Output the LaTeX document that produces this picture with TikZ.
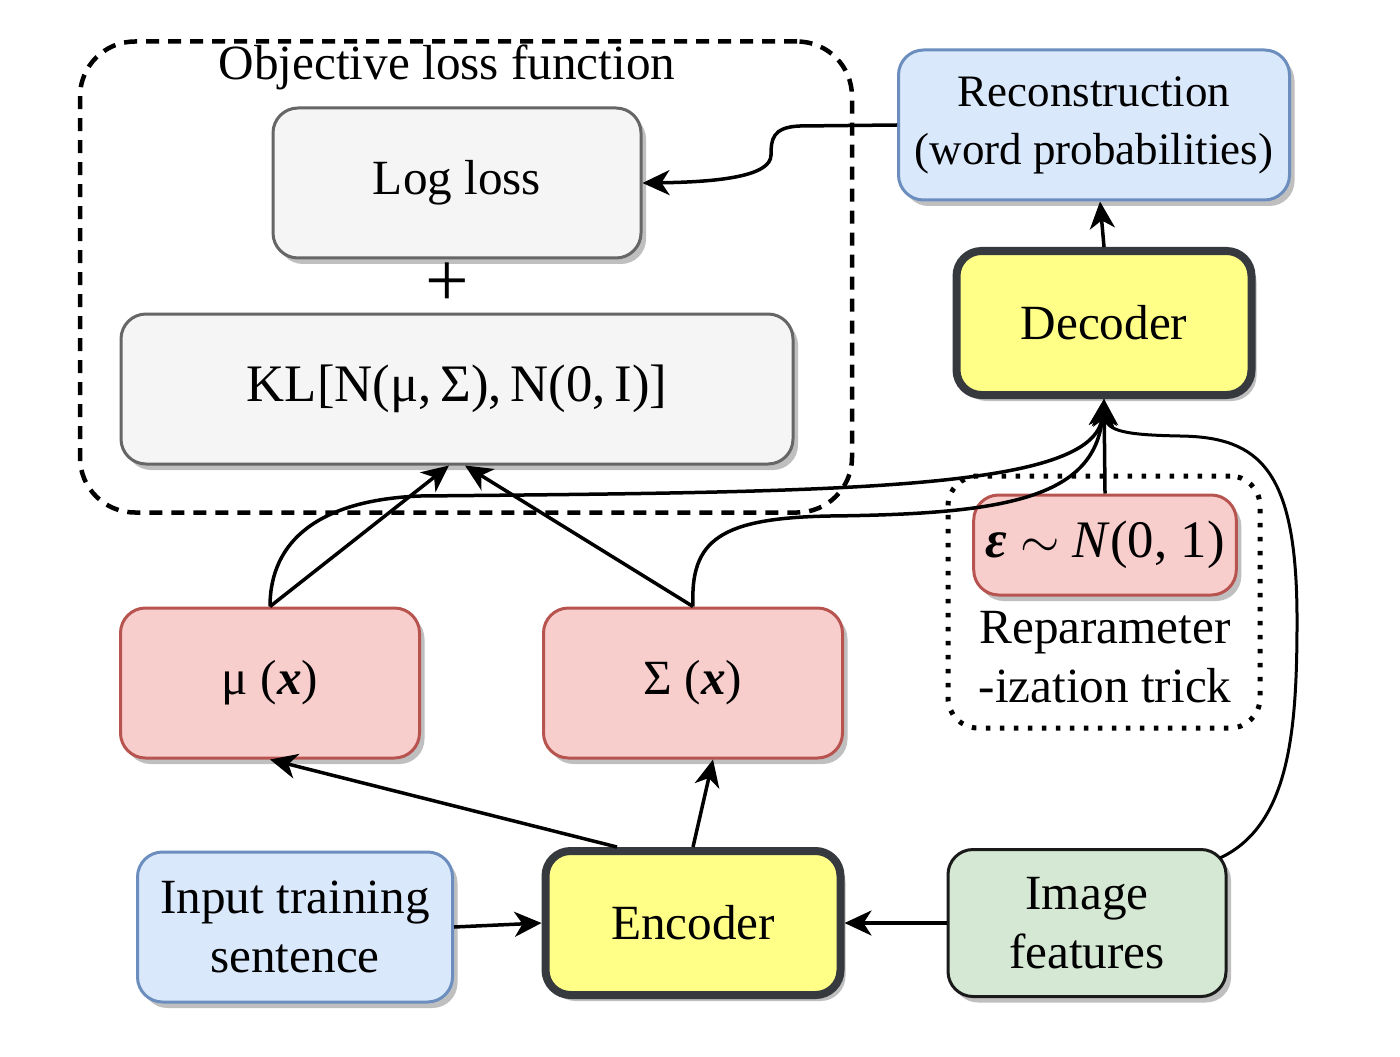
\documentclass[tikz,border=0pt]{standalone}
\usepackage{fontspec}
\setmainfont{Liberation Serif}
\usetikzlibrary{arrows.meta,shadows}
\definecolor{lossfill}{HTML}{F5F5F5}
\definecolor{lossline}{HTML}{666666}
\definecolor{bluefill}{HTML}{DAE8FC}
\definecolor{blueline}{HTML}{6C8EBF}
\definecolor{yellowfill}{HTML}{FFFF88}
\definecolor{coderline}{HTML}{36393D}
\definecolor{redfill}{HTML}{F8CECC}
\definecolor{redline}{HTML}{B85450}
\definecolor{greenfill}{HTML}{D5E8D4}
\definecolor{greenline}{HTML}{1A1A1A}

\begin{document}
\begin{tikzpicture}[x=0.1mm,y=-0.1mm,line width=0.35mm,
    >={Stealth[length=2.7mm,width=2.5mm,inset=0.8mm]},
    font=\fontsize{14}{17}\selectfont]
        %
        % `box' is the common look of all the blocks (rounded, shadowed).
        % `coder' is used by the encoder and the decoder (thick border).
        % `surround' and `trick' are the dashed and dotted groups.
        \tikzstyle{box} = [rounded corners=2.5mm,align=center,line width=0.3mm,
            drop shadow={shadow xshift=0.5mm,shadow yshift=-0.6mm,fill=black,opacity=0.25}]
        \tikzstyle{lossterm} = [box,draw=lossline,fill=lossfill,minimum height=15mm]
        \tikzstyle{textbox} = [box,draw=blueline,fill=bluefill,minimum height=15mm]
        \tikzstyle{coder} = [box,draw=coderline,fill=yellowfill,line width=0.8mm,
            minimum width=29.5mm,minimum height=14.4mm]
        \tikzstyle{param} = [box,draw=redline,fill=redfill,minimum width=29.9mm,minimum height=15mm]
        \tikzstyle{feature} = [box,draw=greenline,fill=greenfill,minimum width=27.8mm,minimum height=14.7mm]
        \tikzstyle{surround} = [draw,rounded corners=5.5mm,line width=0.45mm,dash pattern=on 1.3mm off 0.9mm]
        \tikzstyle{trick} = [draw,rounded corners=3mm,line width=0.5mm,dash pattern=on 0.45mm off 0.95mm]
        %
        \useasboundingbox (0,0) rectangle (1400,1056);
        %
        % Objective loss function
        \node[surround,minimum width=77.2mm,minimum height=47.1mm] (lossbox) at (466,277) {};
        \node (losslabel) at (447,67) {Objective loss function};
        \node[lossterm,minimum width=36.8mm] (logloss) at (457,183) {Log loss};
        \node (plus) at (447,285) {\fontsize{22}{22}\selectfont +};
        \node[lossterm,minimum width=67.2mm] (kl) at (457,389)
            {\fontsize{15}{17}\selectfont KL[N(μ,\,Σ),\,N(0,\,I)]};
        %
        % Decoder side
        \node[textbox,minimum width=39.1mm,inner sep=0pt,font=\fontsize{12.8}{16.5}\selectfont]
            (recon) at (1094,125) {Reconstruction\\(word probabilities)};
        \node[coder] (decoder) at (1104,323) {Decoder};
        %
        % Reparameterization trick
        \node[trick,minimum width=31.2mm,minimum height=25.2mm] (trickbox) at (1104,602) {};
        \node[param,minimum width=26.1mm,minimum height=10mm] (eps) at (1105,545)
            {\fontsize{15}{17}\selectfont{\bfseries\itshape ε} $\sim$ \textit{N}(0, 1)};
        \node[align=center] (tricklabel) at (1105,657) {Reparameter\\-ization trick};
        %
        % Latent parameters
        \node[param] (mu) at (270,683) {μ (\textbf{\textit{x}})};
        \node[param] (sigma) at (693,683) {Σ (\textbf{\textit{x}})};
        %
        % Inputs and encoder
        \node[textbox,minimum width=31.5mm] (input) at (295,927) {Input training\\sentence};
        \node[coder] (encoder) at (693,923) {Encoder};
        \node[feature] (image) at (1087,923) {Image\\features};
        \coordinate (imgout) at (1220,858);
        %
        % Encoder connections
        \draw[->] (input.east) -- (encoder.west);
        \draw[->] (image.west) -- (encoder.east);
        \draw[->] ([xshift=-7.6mm]encoder.north) -- (mu.south);
        \draw[->] (encoder.north) -- ([xshift=2mm]sigma.south);
        %
        % To the KL term
        \draw[->] (mu.north) -- ([xshift=-0.8mm]kl.south);
        \draw[->] (sigma.north) -- ([xshift=0.8mm]kl.south);
        %
        % To the decoder
        \draw[->] (mu.north) .. controls (270,540) and (320,500) .. (420,496)
            .. controls (850,492) and (1095,490) .. (decoder.south);
        \draw[->] (sigma.north) .. controls (690,540) and (720,518) .. (830,516)
            .. controls (1000,514) and (1095,500) .. (decoder.south);
        \draw[->] (eps.north) -- (decoder.south);
        \draw[->,line width=0.3mm] (imgout) .. controls (1290,825) and (1297,730) .. (1297,620)
            .. controls (1297,470) and (1260,437) .. (1180,436)
            .. controls (1130,435) and (1106,432) .. (decoder.south);
        %
        % Decoder outputs
        \draw[->] (decoder.north) -- ([xshift=0.6mm]recon.south);
        \draw[->] (recon.west) -- (800,126) .. controls (772,127) and (771,140) .. (771,155)
            .. controls (771,176) and (720,182) .. (logloss.east);
        %
\end{tikzpicture}
\end{document}
